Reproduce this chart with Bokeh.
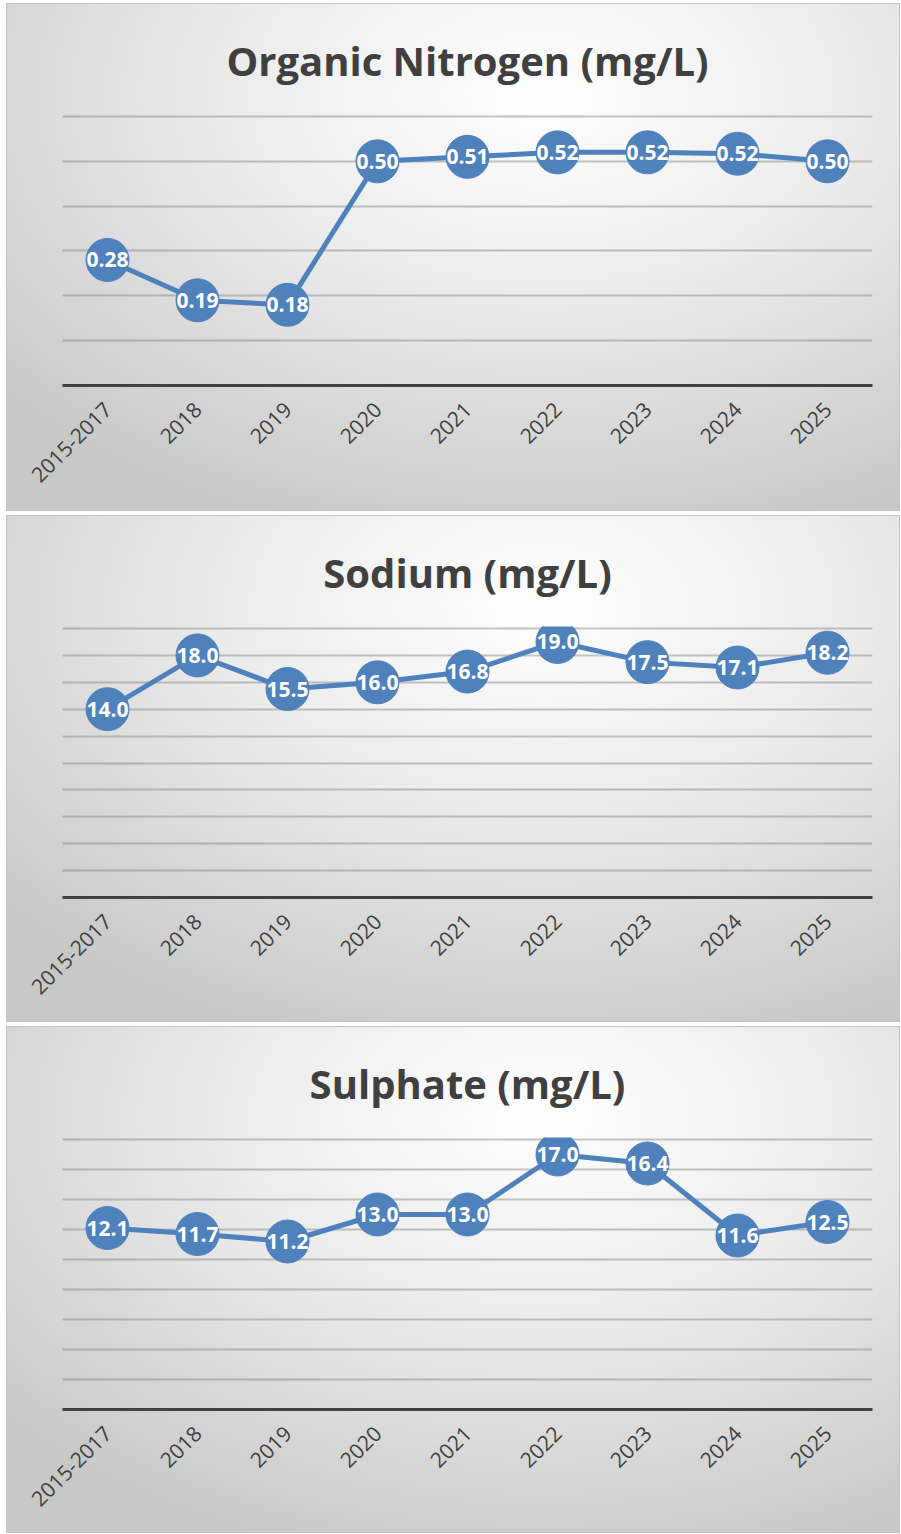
import math
from bokeh.plotting import figure
from bokeh.layouts import column, row
from bokeh.models import ColumnDataSource, FactorRange, Range1d, FixedTicker, Spacer
from bokeh.core.properties import value
from bokeh.embed import file_html
from bokeh.resources import INLINE

categories = ["2015-2017", "2018", "2019", "2020", "2021", "2022", "2023", "2024", "2025"]
organic_nitrogen = [0.28, 0.19, 0.18, 0.50, 0.51, 0.52, 0.52, 0.517, 0.50]
sodium = [14.0, 18.0, 15.5, 16.0, 16.8, 19.0, 17.5, 17.1, 18.2]
sulphate = [12.1, 11.7, 11.2, 13.0, 13.0, 17.0, 16.4, 11.6, 12.5]

n_ticks = [0, 0.1, 0.2, 0.3, 0.4, 0.5, 0.6]
na_ticks = [0, 2, 4, 6, 8, 10, 12, 14, 16, 18, 20]
so4_ticks = [0, 2, 4, 6, 8, 10, 12, 14, 16, 18]

BLUE = "#4f81bd"
FONT = "Open Sans"
PAD_PX = 2


def make_chart(title, vals, fmt, ticks, height, top, frame_h):
    span = ticks[-1] - ticks[0]
    pad = span * PAD_PX / frame_h
    p = figure(
        x_range=FactorRange(*categories, range_padding=0),
        y_range=Range1d(ticks[0], ticks[-1] + pad),
        width=894, height=height,
        output_backend="svg", toolbar_location=None,
        min_border_left=56, min_border_right=28,
        min_border_top=top - PAD_PX, min_border_bottom=height - top - frame_h,
        title=title,
    )
    p.styles = {
        "background": "radial-gradient(ellipse 80% 90% at 60% 18%, #ffffff 0%, #ebebeb 45%, #d8d8d8 75%, #c8c8c8 100%)",
        "box-shadow": "inset 0 0 0 1px #c4c4c4",
    }
    p.border_fill_alpha = 0
    p.background_fill_alpha = 0
    p.outline_line_color = None

    p.title.text_font = FONT
    p.title.text_font_size = "40px"
    p.title.text_font_style = "bold"
    p.title.text_color = "#404040"
    p.title.align = "center"
    p.title.standoff = 54

    p.yaxis.visible = False
    p.ygrid[0].ticker = FixedTicker(ticks=ticks)
    p.ygrid.grid_line_color = "#7f7f7f"
    p.ygrid.grid_line_alpha = 0.45
    p.ygrid.grid_line_width = 2
    p.xgrid.visible = False

    ax = p.xaxis[0]
    ax.axis_line_color = "#404040"
    ax.axis_line_width = 3
    ax.major_tick_line_color = None
    ax.minor_tick_line_color = None
    ax.major_label_orientation = math.pi / 4
    ax.major_label_text_font = FONT
    ax.major_label_text_font_size = "21px"
    ax.major_label_text_color = "#404040"
    ax.major_label_standoff = 14

    src = ColumnDataSource(dict(x=categories, y=vals, label=[fmt.format(v) for v in vals]))
    p.line("x", "y", source=src, line_color=BLUE, line_width=5)
    p.scatter("x", "y", source=src, marker="circle", size=43, fill_color=BLUE, line_color=BLUE)
    p.text("x", "y", text="label", source=src, text_align="center", text_baseline="middle",
           text_color="white", text_font=value(FONT), text_font_style="bold", text_font_size="21px")
    return p


p1 = make_chart("Organic Nitrogen (mg/L)", organic_nitrogen, "{:.2f}", n_ticks, 508, 112, 270)
p2 = make_chart("Sodium (mg/L)", sodium, "{:.1f}", na_ticks, 507, 113, 269)
p3 = make_chart("Sulphate (mg/L)", sulphate, "{:.1f}", so4_ticks, 507, 113, 270)

layout = row(Spacer(width=6), column(Spacer(height=3), p1, Spacer(height=4), p2, Spacer(height=4), p3))
open("out.html", "w").write(file_html(layout, INLINE))
